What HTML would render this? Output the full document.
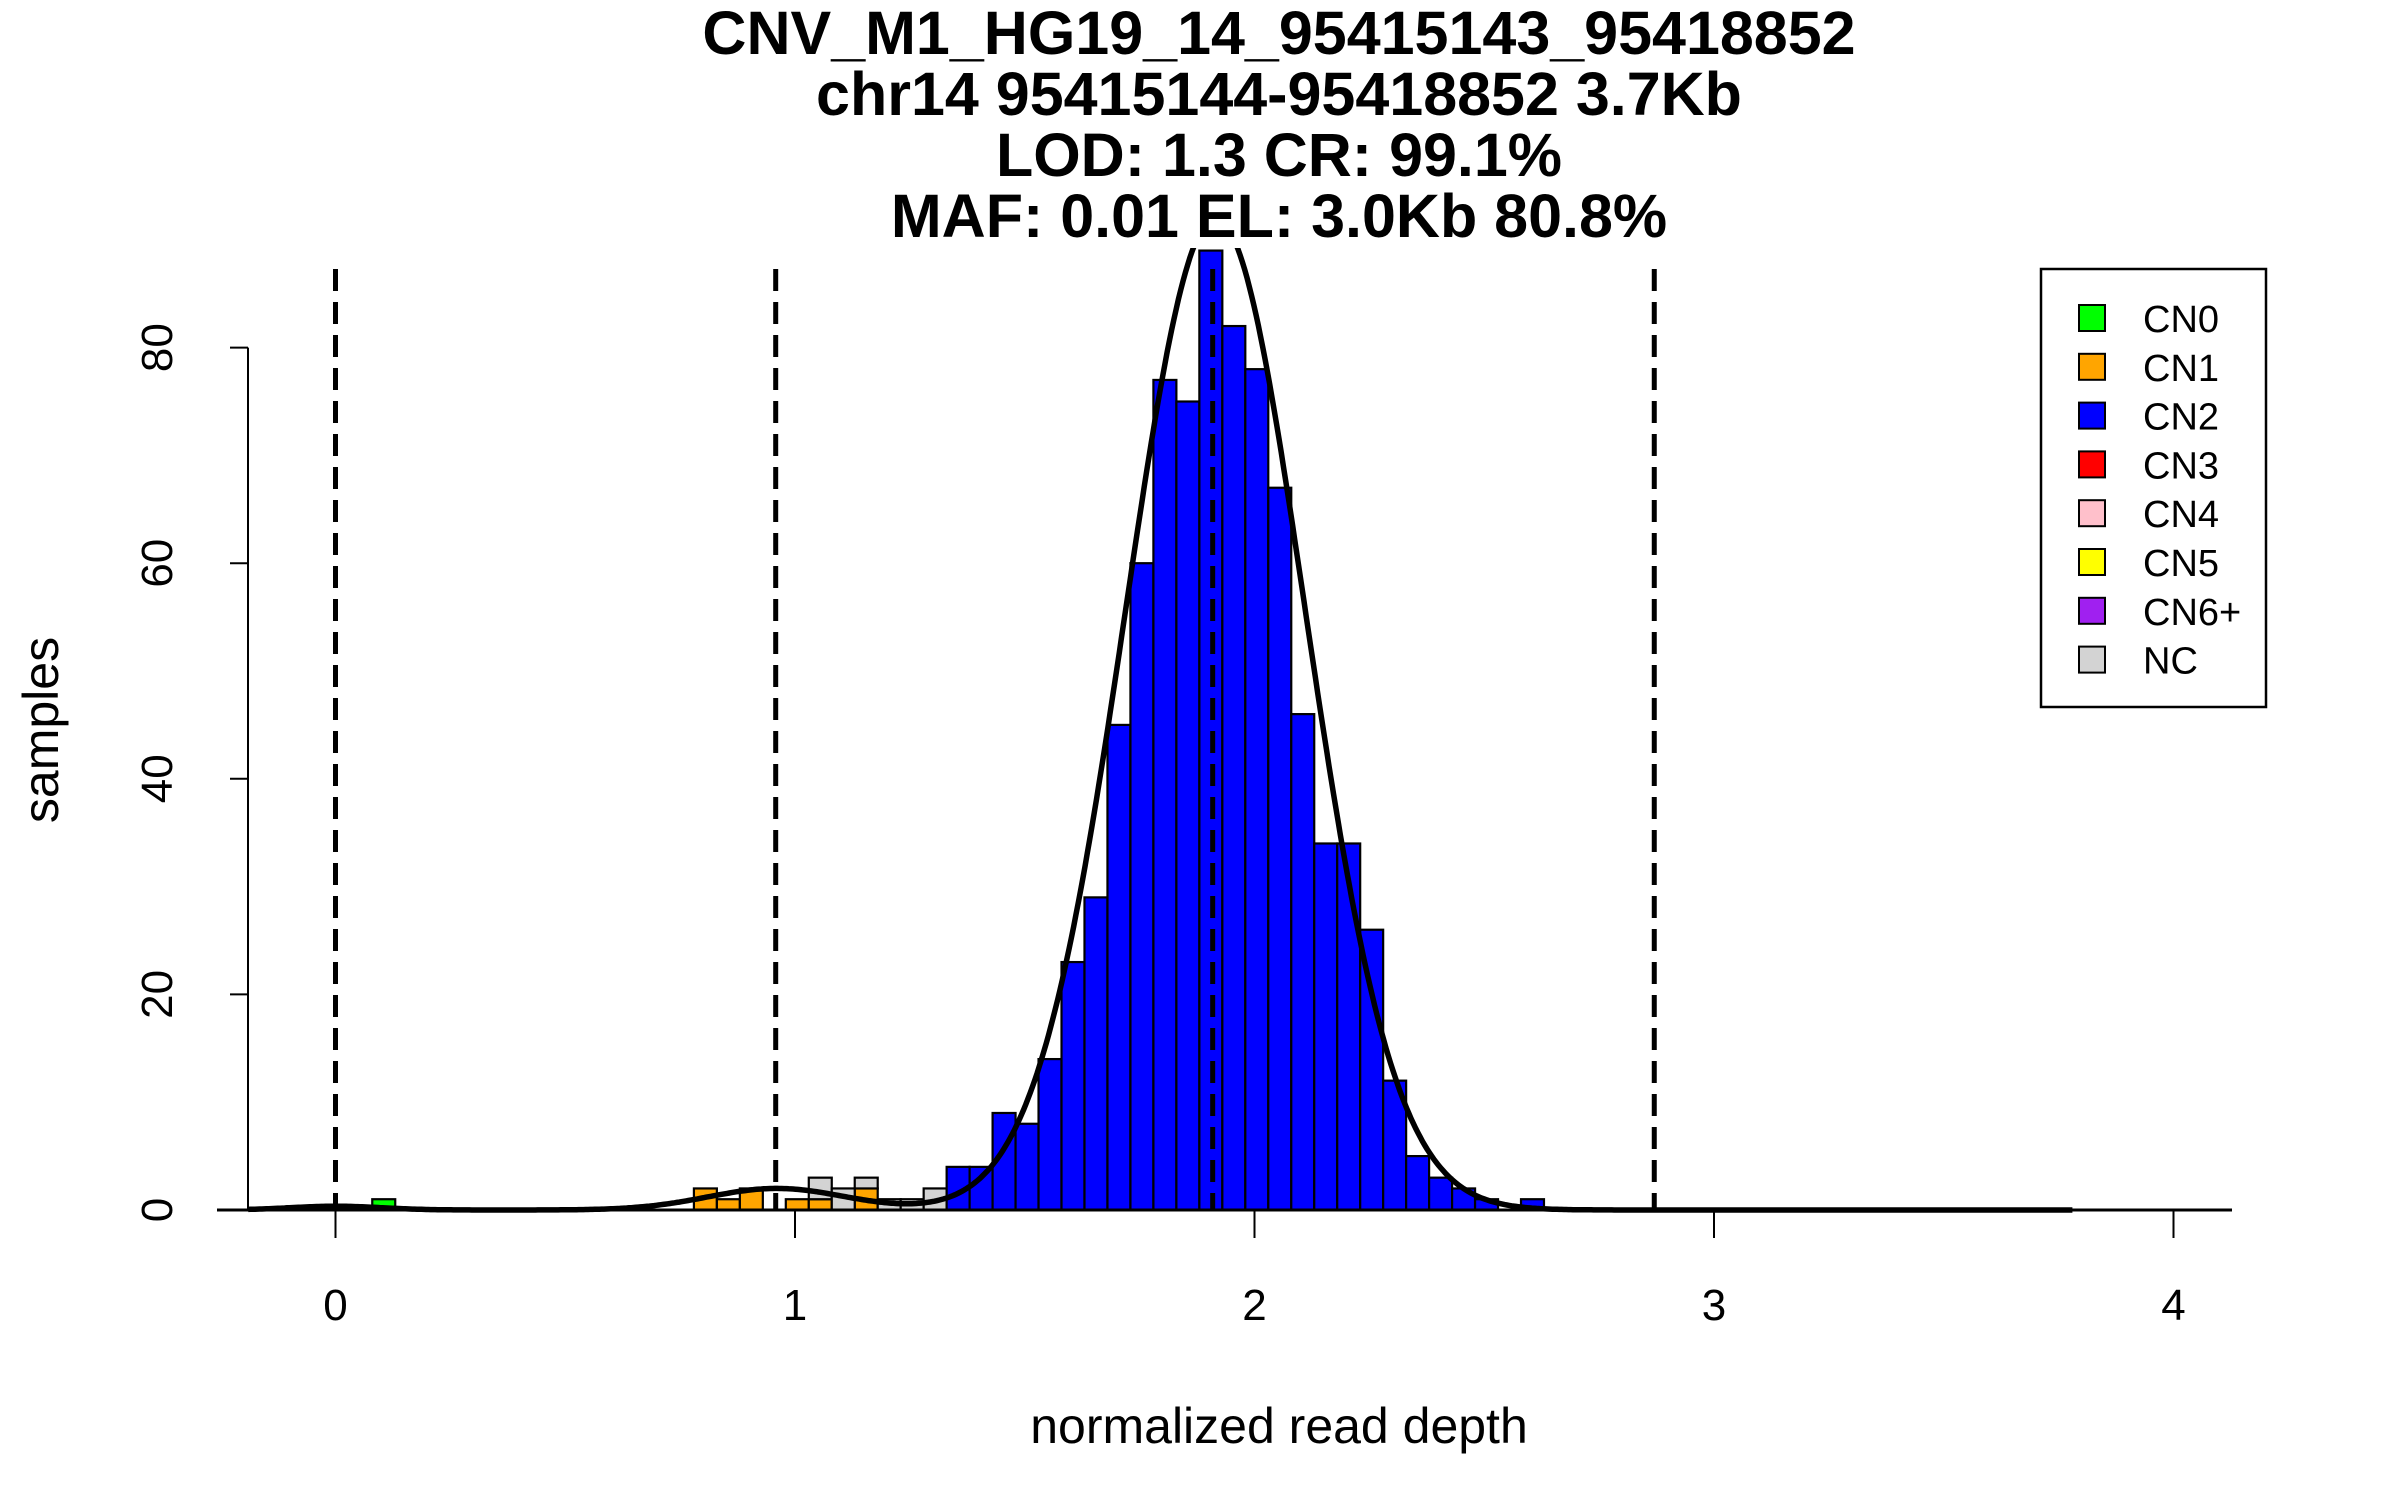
<!DOCTYPE html>
<html><head><meta charset="utf-8">
<style>
html,body{margin:0;padding:0;background:#fff;}
svg{display:block;font-family:"Liberation Sans",sans-serif;}
</style></head>
<body>
<svg id="chart" width="2400" height="1500" viewBox="0 0 2400 1500" xmlns="http://www.w3.org/2000/svg">
<rect width="2400" height="1500" fill="#fff"/>
<g font-weight="bold" font-size="61" text-anchor="middle" fill="#000">
<text x="1279" y="54">CNV_M1_HG19_14_95415143_95418852</text>
<text x="1279" y="115">chr14 95415144-95418852 3.7Kb</text>
<text x="1279" y="176">LOD: 1.3 CR: 99.1%</text>
<text x="1279" y="237">MAF: 0.01 EL: 3.0Kb 80.8%</text>
</g>
<defs><clipPath id="plotclip"><rect x="200" y="248" width="2100" height="1000"/></clipPath></defs>
<g id="bars" clip-path="url(#plotclip)"></g>
<g id="curve" clip-path="url(#plotclip)"></g>
<g id="vlines"></g>
<g id="axes"></g>
<text x="1279" y="1443" font-size="50" text-anchor="middle">normalized read depth</text>
<text transform="translate(58,730) rotate(-90)" font-size="50" text-anchor="middle">samples</text>
<g>
<rect x="2041" y="269" width="225" height="438" fill="#fff" stroke="#000" stroke-width="2.5"/>
<g id="legend-entries"></g>
</g>
</svg>
<script>
// ---- data ----
const binStart = 0.03;
const binWidth = 0.05;
// counts per bin index (bin k starts at binStart + k*binWidth)
const cn0Counts = {1:1};
const cn1Counts = {15:2,16:1,17:2,19:1,20:1,22:2};
const ncCounts = {20:2,21:2,22:1,23:1,24:1,25:2};
const cn2FirstBin = 26;
const cn2Counts = [4,4,9,8,14,23,29,45,60,77,75,89,82,78,67,46,34,34,26,12,5,3,2,1,0,1];
const fitMeans = [0, 0.96, 1.915];
const fitSds = [0.1, 0.15, 0.195];
const fitPeaks = [0.35, 2, 92];
const cutoffs = [0, 0.958, 1.909, 2.87];
const xTicks = [0,1,2,3,4];
const yTicks = [0,20,40,60,80];
const legendLabels = ["CN0","CN1","CN2","CN3","CN4","CN5","CN6+","NC"];
const legendColors = ["#00ff00","#ffa500","#0000ff","#ff0000","#ffc0cb","#ffff00","#a020f0","#d3d3d3"];
// ---- scales ----
const X = v => 335.5 + v*459.5;
const Y = c => 1210 - c*10.78;
const NS = "http://www.w3.org/2000/svg";
function mk(tag, attrs, parent){const e=document.createElementNS(NS,tag);for(const k in attrs)e.setAttribute(k,attrs[k]);parent.appendChild(e);return e;}
const bars=document.getElementById('bars');
function bar(k, base, n, color, name){
  if(n<=0) return;
  const x0=binStart+k*binWidth;
  const r=mk('rect',{x:X(x0),y:Y(base+n),width:X(x0+binWidth)-X(x0),height:Y(base)-Y(base+n),fill:color,stroke:'#000','stroke-width':2.2},bars);
  
  
}
for(const k in cn0Counts) bar(+k,0,cn0Counts[k],'#00ff00','bar-cn0');
for(const k in cn1Counts) bar(+k,0,cn1Counts[k],'#ffa500','bar-cn1');
for(const k in ncCounts){const b=cn1Counts[k]||0; bar(+k,b,ncCounts[k],'#d3d3d3','bar-nc');}
cn2Counts.forEach((n,i)=>bar(cn2FirstBin+i,0,n,'#0000ff','bar-cn2'));
// curve
let d='';
for(let i=0;i<=800;i++){
  const v=-0.19+i*(3.97/800);
  let s=0; for(let j=0;j<fitMeans.length;j++){const z=(v-fitMeans[j])/fitSds[j]; s+=fitPeaks[j]*Math.exp(-0.5*z*z);}
  d+=(i?'L':'M')+X(v).toFixed(1)+','+Y(s).toFixed(1);
}
const cp=mk('path',{d:d,fill:'none',stroke:'#000','stroke-width':5.5},document.getElementById('curve'));


// cutoffs
const vl=document.getElementById('vlines');
cutoffs.forEach(c=>{
  const l=mk('line',{x1:X(c),x2:X(c),y1:269,y2:1210,stroke:'#000','stroke-width':5,'stroke-dasharray':'22,11'},vl);
  
  
});
// axes
const ax=document.getElementById('axes');
const xl=mk('line',{x1:217,x2:2232,y1:1210,y2:1210,stroke:'#000','stroke-width':3},ax);


xTicks.forEach(t=>{
  const tk=mk('line',{x1:X(t),x2:X(t),y1:1210,y2:1238,stroke:'#000','stroke-width':2},ax);
  
  
  const tx=mk('text',{x:X(t),y:1320,'font-size':44,'text-anchor':'middle'},ax);
  tx.textContent=t;
  
  
});
const yl=mk('line',{x1:248,x2:248,y1:Y(0),y2:Y(80),stroke:'#000','stroke-width':2},ax);


yTicks.forEach(t=>{
  const tk=mk('line',{x1:230,x2:248,y1:Y(t),y2:Y(t),stroke:'#000','stroke-width':2},ax);
  
  
  const tx=mk('text',{transform:`translate(172,${Y(t)}) rotate(-90)`,'font-size':44,'text-anchor':'middle'},ax);
  tx.textContent=t;
  
  
});
// legend
const lg=document.getElementById('legend-entries');
legendLabels.forEach((lab,i)=>{
  const y=318+i*48.8;
  const g=mk('g',{},lg);
  
  
  mk('rect',{x:2079,y:y-13,width:26,height:26,fill:legendColors[i],stroke:'#000','stroke-width':2},g);
  const t=mk('text',{x:2143,y:y+14,'font-size':38},g);
  t.textContent=lab;
});
</script>
</body></html>
